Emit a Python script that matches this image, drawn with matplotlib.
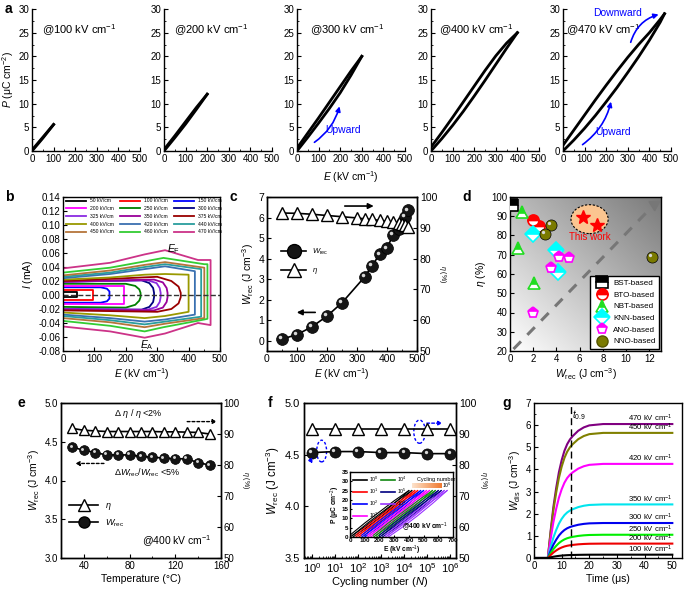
import numpy as np
import matplotlib
matplotlib.use('Agg')
import matplotlib.pyplot as plt
from matplotlib.patches import Ellipse
from matplotlib.lines import Line2D
from matplotlib import transforms
from matplotlib.colors import LinearSegmentedColormap
from matplotlib.ticker import AutoMinorLocator, LogLocator, NullFormatter

plt.rcParams['font.family'] = ['Liberation Sans', 'DejaVu Sans']
plt.rcParams['mathtext.fontset'] = 'custom'
plt.rcParams['mathtext.rm'] = 'Liberation Sans'
plt.rcParams['mathtext.it'] = 'Liberation Sans:italic'
plt.rcParams['mathtext.bf'] = 'Liberation Sans:bold'
plt.rcParams['font.size'] = 7
plt.rcParams['axes.labelsize'] = 7.5
plt.rcParams['xtick.labelsize'] = 7
plt.rcParams['ytick.labelsize'] = 7
plt.rcParams['axes.linewidth'] = 1.0
plt.rcParams['xtick.direction'] = 'in'
plt.rcParams['ytick.direction'] = 'in'
plt.rcParams['xtick.major.size'] = 3
plt.rcParams['ytick.major.size'] = 3
plt.rcParams['xtick.minor.size'] = 1.5
plt.rcParams['ytick.minor.size'] = 1.5
plt.rcParams['xtick.major.pad'] = 2
plt.rcParams['ytick.major.pad'] = 2
plt.rcParams['axes.labelpad'] = 2

# ---------------- data ----------------
# a: P-E loops
a_fields = [100, 200, 300, 400, 470]
a_E = [
    [0, 50, 100],
    [0, 50, 100, 150, 200],
    [0, 50, 100, 150, 200, 250, 300],
    [0, 50, 100, 150, 200, 250, 300, 350, 400],
    [0, 50, 100, 150, 200, 250, 300, 350, 400, 450, 470],
]
a_P_up = [
    [0, 2.7, 5.6],
    [0, 2.8, 5.7, 8.8, 12.0],
    [0, 2.9, 5.9, 9.0, 12.3, 16.0, 20.0],
    [0, 2.6, 5.4, 8.4, 11.6, 14.9, 18.3, 21.7, 25.0],
    [0, 2.3, 4.8, 7.5, 10.4, 13.4, 16.6, 19.9, 23.4, 27.2, 29.0],
]
a_P_dn = [
    [0.2, 2.9, 5.6],
    [0.3, 3.2, 6.2, 9.2, 12.0],
    [0.6, 3.8, 7.0, 10.3, 13.6, 16.9, 20.0],
    [0.8, 3.9, 7.1, 10.4, 13.7, 17.0, 20.1, 22.8, 25.0],
    [1.2, 4.4, 7.6, 10.8, 13.9, 16.9, 19.8, 22.5, 25.0, 27.8, 29.0],
]
a_text_x = [46, 46, 60, 37, 14]

# b: I-E loops
b_fields = [50, 100, 150, 200, 250, 300, 325, 350, 375, 400, 420, 440, 450, 460, 470]
b_colors = ['black', 'red', 'blue', 'magenta', '#008000', '#000080', '#8a2be2', '#990099',
            '#990000', '#999900', '#3a70b0', '#2a9d9d', '#b5753a', '#33cc33', '#cc3388']
b_E = [
    [0, 45],
    [0, 97],
    [0, 120, 140, 148],
    [0, 195],
    [0, 200, 230, 243, 247],
    [0, 250, 275, 287, 290],
    [0, 270, 298, 308, 311],
    [0, 290, 318, 330, 333],
    [0, 300, 345, 368, 375],
    [0, 150, 260, 325, 400],
    [0, 150, 260, 325, 420],
    [0, 150, 260, 325, 440],
    [0, 150, 260, 325, 450],
    [0, 150, 260, 320, 450, 460],
    [0, 150, 260, 325, 430, 470],
]
b_I_up = [
    [0.004, 0.004],
    [0.007, 0.007],
    [0.011, 0.011, 0.009, 0.005],
    [0.013, 0.013],
    [0.016, 0.016, 0.013, 0.008, 0.003],
    [0.019, 0.021, 0.017, 0.010, 0.003],
    [0.019, 0.021, 0.017, 0.010, 0.003],
    [0.019, 0.022, 0.018, 0.010, 0.003],
    [0.020, 0.026, 0.020, 0.012, 0.003],
    [0.022, 0.025, 0.029, 0.030, 0.029],
    [0.024, 0.030, 0.037, 0.041, 0.034],
    [0.026, 0.032, 0.040, 0.044, 0.037],
    [0.028, 0.035, 0.043, 0.047, 0.039],
    [0.032, 0.039, 0.048, 0.053, 0.044, 0.044],
    [0.038, 0.046, 0.058, 0.064, 0.050, 0.050],
]
b_I_lo = [
    [-0.003, -0.003],
    [-0.007, -0.007],
    [-0.011, -0.011, -0.009, -0.005],
    [-0.013, -0.013],
    [-0.017, -0.018, -0.014, -0.008, -0.003],
    [-0.020, -0.021, -0.017, -0.010, -0.003],
    [-0.020, -0.021, -0.017, -0.010, -0.003],
    [-0.021, -0.022, -0.018, -0.010, -0.003],
    [-0.022, -0.024, -0.020, -0.012, -0.003],
    [-0.025, -0.029, -0.033, -0.030, -0.024],
    [-0.028, -0.033, -0.038, -0.035, -0.028],
    [-0.030, -0.036, -0.042, -0.038, -0.031],
    [-0.033, -0.039, -0.046, -0.041, -0.033],
    [-0.037, -0.044, -0.052, -0.046, -0.035, -0.034],
    [-0.045, -0.052, -0.061, -0.055, -0.040, -0.043],
]

# c: energy storage vs field
c_E_w = [50, 100, 150, 200, 250, 325, 350, 375, 400, 420, 440, 450, 460, 470]
c_W = [0.08, 0.30, 0.68, 1.20, 1.85, 3.10, 3.65, 4.20, 4.50, 5.15, 5.45, 5.75, 6.05, 6.35]
c_E_eta = [50, 100, 150, 200, 250, 300, 325, 350, 375, 400, 420, 440, 450, 460, 470]
c_eta = [94.8, 94.7, 94.4, 94.0, 93.6, 93.2, 92.9, 92.7, 92.4, 92.1, 91.8, 91.5, 91.2, 90.8, 90.1]

# d: comparison
d_groups = ['BST-based', 'BTO-based', 'NBT-based', 'KNN-based', 'ANO-based', 'NNO-based']
d_colors = ['black', 'red', '#22dd22', 'cyan', 'magenta', '#808000']
d_markers = ['s', 'o', '^', 'D', 'p', 'o']
d_W = [[0.2], [2.0, 2.5], [1.0, 0.7, 2.1], [2.0, 4.0, 4.1], [4.2, 5.1, 3.5, 2.0], [3.5, 3.0, 12.2]]
d_eta = [[96], [88, 85], [92, 73.5, 55.5], [81, 72.5, 61], [69, 68.5, 63, 40], [85.5, 81, 69]]
d_this_W = [6.3, 7.5]
d_this_eta = [89.5, 85.5]

# e: temperature stability
e_T = [30, 40, 50, 60, 70, 80, 90, 100, 110, 120, 130, 140, 150]
e_W = [4.43, 4.39, 4.36, 4.33, 4.33, 4.33, 4.31, 4.30, 4.29, 4.28, 4.28, 4.23, 4.20]
e_eta = [91.8, 91.2, 91.0, 90.8, 90.8, 90.8, 90.8, 90.8, 90.7, 90.7, 90.6, 90.5, 90.0]

# f: fatigue
f_N = [1, 1e1, 1e2, 1e3, 1e4, 1e5, 1e6]
f_W = [4.52, 4.53, 4.53, 4.52, 4.52, 4.51, 4.51]
f_eta = [91.5, 91.5, 91.5, 91.5, 91.5, 91.5, 91.5]
f_in_labels = ['10$^0$', '10$^1$', '10$^2$', '10$^3$', '10$^4$', '10$^5$', '10$^6$']
f_in_colors = ['black', 'red', 'blue', 'magenta', '#118811', '#000080', '#9933ff']
f_in_offsets = [[0, 20], [40, 60], [80, 100], [120, 140], [160, 180], [200, 220], [240, 260]]
f_in_E = [0, 100, 200, 300, 400]
f_in_P_up = [0, 5.5, 11.5, 18.0, 25.0]
f_in_P_dn = [1.0, 7.5, 13.5, 19.5, 25.0]

# g: discharge energy
g_fields = [470, 450, 420, 350, 300, 250, 200, 100]
g_colors = ['#800080', '#808000', '#ff00ff', '#00e5ee', '#0000ee', '#00ee00', '#ee0000', 'black']
g_final = [6.05, 5.65, 4.25, 2.42, 1.58, 1.05, 0.65, 0.15]
g_time = [0, 5, 6, 7, 8, 9, 10, 11, 12, 13, 14, 16, 18, 20, 25, 30, 40, 50]
g_shape = [0, 0, 0.20, 0.38, 0.52, 0.64, 0.73, 0.80, 0.85, 0.885, 0.91, 0.95, 0.975, 0.99, 1, 1, 1, 1]

# ---------------- figure ----------------
fig = plt.figure(figsize=(6.85, 5.89), dpi=100)
W_, H_ = 685.0, 589.0


def rect(x0, x1, y0, y1):
    return [x0 / W_, 1 - y1 / H_, (x1 - x0) / W_, (y1 - y0) / H_]


def balls(ax, x, y, ms, color='#151515', ls='-', zorder=3):
    ax.plot(x, y, ls=ls, color='black', lw=1.2, marker='o', ms=ms, mfc=color,
            mec='black', mew=0.5, zorder=zorder)
    tr = transforms.offset_copy(ax.transData, fig=fig, x=-ms * 0.15, y=ms * 0.15, units='points')
    ax.plot(x, y, ls='none', marker='o', ms=ms * 0.3, mfc='#d8d8d8', mec='none',
            transform=tr, zorder=zorder + 0.1)


lab = dict(fontsize=10, fontweight='bold', ha='left', va='top')

# ---- a ----
a_left = [32, 164, 297, 431, 563]
for i, x0 in enumerate(a_left):
    ax = fig.add_axes(rect(x0, x0 + 108, 9, 151))
    ax.plot(a_E[i], a_P_up[i], color='black', lw=2)
    ax.plot(a_E[i], a_P_dn[i], color='black', lw=2)
    ax.set_xlim(0, 500)
    ax.set_ylim(0, 30)
    ax.spines['top'].set_visible(False)
    ax.spines['right'].set_visible(False)
    ax.set_xticks(range(0, 501, 100))
    ax.set_yticks(range(0, 31, 5))
    ax.xaxis.set_minor_locator(AutoMinorLocator(2))
    ax.yaxis.set_minor_locator(AutoMinorLocator(2))
    ax.text(a_text_x[i], 25.5, '@%d kV cm$^{-1}$' % a_fields[i], fontsize=8, va='center')
    if i == 0:
        ax.set_ylabel('$P$ (μC cm$^{-2}$)')
    if i == 2:
        ax.set_xlabel('$E$ (kV cm$^{-1}$)', labelpad=4)
        ax.annotate('', xy=(200, 10), xytext=(70, 1.5),
                    arrowprops=dict(arrowstyle='-|>', color='blue', lw=1.2,
                                    connectionstyle='arc3,rad=0.2', mutation_scale=7))
        ax.text(130, 3.7, 'Upward', color='blue', fontsize=7.5)
    if i == 4:
        ax.annotate('', xy=(225, 11), xytext=(80, 1),
                    arrowprops=dict(arrowstyle='-|>', color='blue', lw=1.2,
                                    connectionstyle='arc3,rad=0.2', mutation_scale=7))
        ax.text(150, 3.3, 'Upward', color='blue', fontsize=7.5)
        ax.annotate('', xy=(455, 29), xytext=(310, 22.4),
                    arrowprops=dict(arrowstyle='-|>', color='blue', lw=1.2,
                                    connectionstyle='arc3,rad=-0.3', mutation_scale=7))
        ax.text(140, 28.6, 'Downward', color='blue', fontsize=7.5)
fig.text(5 / W_, 1 - 2 / H_, 'a', **lab)

# ---- b ----
ax = fig.add_axes(rect(63, 220, 197, 351))
handles = []
for i in range(len(b_fields)):
    xs = b_E[i] + b_E[i][::-1] + [b_E[i][0]]
    ys = b_I_up[i] + b_I_lo[i][::-1] + [b_I_up[i][0]]
    ax.plot(xs, ys, color=b_colors[i], lw=1.3)
    handles.append(Line2D([], [], color=b_colors[i], lw=1.3, label='%d kV/cm' % b_fields[i]))
ax.axhline(0, color='#333333', ls='--', lw=1)
ax.set_xlim(0, 500)
ax.set_ylim(-0.08, 0.14)
yt = np.arange(-0.08, 0.141, 0.02)
ax.set_yticks(yt)
ax.set_yticklabels(['%.2f' % v if abs(v) > 1e-9 else '0.00' for v in yt])
ax.set_xticks(range(0, 501, 100))
ax.xaxis.set_minor_locator(AutoMinorLocator(2))
ax.set_xlabel('$E$ (kV cm$^{-1}$)')
ax.set_ylabel('$I$ (mA)')
order = handles[0::3] + handles[1::3] + handles[2::3]
ax.legend(handles=order, ncol=3, loc='upper left', bbox_to_anchor=(0.0, 1.01), frameon=False,
          fontsize=3.6, handlelength=4, columnspacing=1.2, labelspacing=0.55, borderaxespad=0.2)
ax.text(330, 0.061, '$E_\\mathrm{F}$', fontsize=7.5)
ax.text(245, -0.076, '$E_\\mathrm{A}$', fontsize=7.5)
fig.text(5 / W_, 1 - 190 / H_, 'b', **lab)

# ---- c ----
ax = fig.add_axes(rect(267, 417, 197, 351))
ax2 = ax.twinx()
balls(ax, c_E_w, c_W, 8.5)
ax2.plot(c_E_eta, c_eta, color='black', lw=1.2, marker='^', ms=8, mfc='white', mec='black', mew=1)
ax.set_xlim(0, 500)
ax.set_ylim(-0.5, 7)
ax2.set_ylim(50, 100)
ax.set_xticks(range(0, 501, 100))
ax.set_yticks(range(0, 8))
ax2.set_yticks(range(50, 101, 10))
ax.xaxis.set_minor_locator(AutoMinorLocator(2))
ax.tick_params(labelsize=7.5)
ax2.tick_params(labelsize=7.5)
ax.set_xlabel('$E$ (kV cm$^{-1}$)')
ax.set_ylabel('$W_\\mathrm{rec}$ (J cm$^{-3}$)')
ax2.set_ylabel('$\\eta$ (%)', rotation=270, labelpad=8, fontsize=5)
ax.annotate('', xy=(365, 6.56), xytext=(250, 6.56),
            arrowprops=dict(arrowstyle='-|>', color='black', lw=1.2, mutation_scale=8))
ax.annotate('', xy=(90, 1.38), xytext=(170, 1.38),
            arrowprops=dict(arrowstyle='-|>', color='black', lw=1.2, mutation_scale=8))
hc = [Line2D([], [], color='black', lw=1.2, marker='o', ms=10, mfc='#151515', mec='black'),
      Line2D([], [], color='black', lw=1.2, marker='^', ms=10, mfc='white', mec='black')]
ax.legend(hc, ['$W_\\mathrm{rec}$', '$\\eta$'], loc='upper left', bbox_to_anchor=(0.05, 0.72),
          frameon=False, fontsize=5.5, handlelength=3.2, labelspacing=1.2)
fig.text(230 / W_, 1 - 190 / H_, 'c', **lab)

# ---- d ----
ax = fig.add_axes(rect(510, 661, 197, 351))
gx, gy = np.meshgrid(np.linspace(0, 1, 200), np.linspace(0, 1, 200))
gcm = LinearSegmentedColormap.from_list('bg', ['white', '#7a7a7a'])
ax.imshow(gx * 0.55 + gy * 0.6, extent=[0, 13, 20, 100], origin='lower', cmap=gcm,
          aspect='auto', zorder=0, vmin=0, vmax=1.15)
ax.plot([0.3, 12.0], [21, 93.5], color='#777777', ls=(0, (3.5, 3)), lw=2.2, zorder=1)
ax.plot([12.4], [96.5], marker=(3, 0, -58), ms=9, color='#777777', zorder=1)
ax.add_patch(Ellipse((6.85, 88.5), 3.2, 15, facecolor='#fbc590', edgecolor='black',
                     ls=(0, (2, 1.5)), lw=0.8, zorder=2))
ax.plot(d_this_W, d_this_eta, ls='none', marker='*', ms=10, color='red', zorder=3)
ax.text(6.9, 77.5, 'This work', color='red', fontsize=7, ha='center', zorder=3)
dh = []
for i, g in enumerate(d_groups):
    if g == 'NNO-based':
        balls(ax, d_W[i], d_eta[i], 8, color='#7a7a00', ls='none', zorder=4)
        dh.append(Line2D([], [], ls='none', marker='o', ms=8, mfc='#7a7a00', mec='#555500'))
    else:
        ax.plot(d_W[i], d_eta[i], ls='none', marker=d_markers[i], ms=8, mfc=d_colors[i],
                mfcalt='white', fillstyle='top', mec=d_colors[i], mew=1.2, zorder=4)
        dh.append(Line2D([], [], ls='none', marker=d_markers[i], ms=8, mfc=d_colors[i],
                         markerfacecoloralt='white', fillstyle='top', mec=d_colors[i], mew=1.2))
ax.legend(dh, d_groups, loc='lower right', fontsize=5.8, fancybox=False, edgecolor='black',
          framealpha=1, handletextpad=0.4, labelspacing=0.5, borderaxespad=0.3)
ax.set_xlim(0, 13)
ax.set_ylim(20, 100)
ax.set_xticks(range(0, 13, 2))
ax.set_yticks(range(20, 101, 10))
ax.set_xlabel('$W_\\mathrm{rec}$ (J cm$^{-3}$)')
ax.set_ylabel('$\\eta$ (%)')
fig.text(462 / W_, 1 - 190 / H_, 'd', **lab)

# ---- e ----
ax = fig.add_axes(rect(61, 221, 403, 558))
ax2 = ax.twinx()
balls(ax, e_T, e_W, 7)
ax2.plot(e_T, e_eta, color='black', lw=1.2, marker='^', ms=7, mfc='white', mec='black', mew=1)
ax.set_xlim(20, 160)
ax.set_ylim(3.0, 5.0)
ax2.set_ylim(50, 100)
ax.set_xticks(range(40, 161, 40))
ax.set_yticks(np.arange(3.0, 5.01, 0.5))
ax2.set_yticks(range(50, 101, 10))
ax.xaxis.set_minor_locator(AutoMinorLocator(2))
ax.set_xlabel('Temperature (°C)')
ax.set_ylabel('$W_\\mathrm{rec}$ (J cm$^{-3}$)')
ax2.set_ylabel('$\\eta$ (%)', rotation=270, labelpad=8, fontsize=5)
ax.annotate('', xy=(159, 4.76), xytext=(128, 4.76),
            arrowprops=dict(arrowstyle='-|>', color='black', lw=1, ls=(0, (2, 1.5)), mutation_scale=6))
ax.annotate('', xy=(30, 4.22), xytext=(60, 4.22),
            arrowprops=dict(arrowstyle='-|>', color='black', lw=1, ls=(0, (2, 1.5)), mutation_scale=6))
ax.text(88, 4.83, '$\\Delta\\ \\eta\\ /\\ \\eta$ <2%', fontsize=6.5, ha='center')
ax.text(95, 4.06, '$\\Delta W_\\mathrm{rec}/W_\\mathrm{rec}$ <5%', fontsize=6.5, ha='center')
he = [Line2D([], [], color='black', lw=1.2, marker='^', ms=8, mfc='white', mec='black'),
      Line2D([], [], color='black', lw=1.2, marker='o', ms=8, mfc='#151515', mec='black')]
ax.legend(he, ['$\\eta$', '$W_\\mathrm{rec}$'], loc='upper left', bbox_to_anchor=(0.0, 0.42),
          frameon=False, fontsize=6.5, handlelength=3.2, labelspacing=0.6)
ax.text(152, 3.17, '@400 kV cm$^{-1}$', fontsize=7.5, ha='right')
fig.text(18 / W_, 1 - 396 / H_, 'e', **lab)

# ---- f ----
ax = fig.add_axes(rect(304, 456, 403, 558))
ax2 = ax.twinx()
balls(ax, f_N, f_W, 8)
ax2.plot(f_N, f_eta, color='black', lw=1.2, marker='^', ms=8, mfc='white', mec='black', mew=1)
ax.set_xscale('log')
ax.set_xlim(10 ** -0.35, 10 ** 6.25)
ax.set_ylim(3.5, 5.0)
ax2.set_ylim(50, 100)
ax.xaxis.set_major_locator(LogLocator(base=10, numticks=10))
ax.xaxis.set_minor_locator(LogLocator(base=10, subs=np.arange(2, 10), numticks=20))
ax.xaxis.set_minor_formatter(NullFormatter())
ax.set_yticks(np.arange(3.5, 5.01, 0.5))
ax2.set_yticks(range(50, 101, 10))
ax.tick_params(labelsize=8)
ax.tick_params(axis='x', pad=2.5)
ax.tick_params(axis='y', pad=3)
ax2.tick_params(labelsize=7.5)
ax.set_xlabel('Cycling number ($N$)', fontsize=8, labelpad=0)
ax.set_ylabel('$W_\\mathrm{rec}$ (J cm$^{-3}$)', fontsize=8.3)
ax2.set_ylabel('$\\eta$ (%)', rotation=270, labelpad=9, fontsize=5)
ax.add_patch(Ellipse((0.116, 0.69), 0.065, 0.14, transform=ax.transAxes, fill=False,
                     edgecolor='blue', ls=(0, (2, 1.5)), lw=1))
ax.annotate('', xy=(0.0, 0.63), xytext=(0.07, 0.63), xycoords='axes fraction',
            arrowprops=dict(arrowstyle='-|>', color='blue', lw=1, ls=(0, (2, 1.5)), mutation_scale=6))
ax.add_patch(Ellipse((0.76, 0.815), 0.075, 0.15, transform=ax.transAxes, fill=False,
                     edgecolor='blue', ls=(0, (2, 1.5)), lw=1))
ax.annotate('', xy=(0.93, 0.87), xytext=(0.79, 0.87), xycoords='axes fraction',
            arrowprops=dict(arrowstyle='-|>', color='blue', lw=1, ls=(0, (2, 1.5)), mutation_scale=6))
fig.text(268 / W_, 1 - 396 / H_, 'f', **lab)

# inset
axi = fig.add_axes(rect(350, 453, 472, 537))
ih = []
for i in range(len(f_in_labels)):
    for off in f_in_offsets[i]:
        axi.plot([e + off for e in f_in_E], f_in_P_up, color=f_in_colors[i], lw=0.8)
        axi.plot([e + off for e in f_in_E], f_in_P_dn, color=f_in_colors[i], lw=0.8)
    ih.append(Line2D([], [], color=f_in_colors[i], lw=1.2))
axi.legend(ih, f_in_labels, ncol=2, loc='upper left', frameon=False, fontsize=3.8,
           handlelength=2.6, handletextpad=0.4, columnspacing=0.5, labelspacing=0.5,
           borderaxespad=0.2)
ocm = LinearSegmentedColormap.from_list('or', ['#fde3cc', '#f07a30'])
axi.imshow(np.linspace(0, 1, 100).reshape(1, -1), extent=[420, 620, 26.5, 29], cmap=ocm,
           aspect='auto', zorder=2)
axi.text(585, 31.2, 'Cycling number', fontsize=4, ha='center', va='center')
axi.text(625, 27.8, '10$^6$', fontsize=3.8, va='center')
axi.text(665, 4, '@400 kV cm$^{-1}$', fontsize=4.8, fontweight='bold', ha='right')
axi.set_xlim(0, 700)
axi.set_ylim(0, 35)
axi.set_xticks(range(0, 701, 100))
axi.set_yticks(range(0, 36, 5))
axi.tick_params(labelsize=4.5, length=1.5, pad=1)
for t in axi.get_xticklabels() + axi.get_yticklabels():
    t.set_fontweight('bold')
axi.set_xlabel('$\\mathbf{E}$ (kV cm$^{-1}$)', fontsize=4.8, fontweight='bold', labelpad=0)
axi.set_ylabel('$\\mathbf{P}$ (μC cm$^{-2}$)', fontsize=4.8, fontweight='bold', labelpad=0)

# ---- g ----
ax = fig.add_axes(rect(534, 682, 403, 558))
for i in range(len(g_fields)):
    ax.plot(g_time, [s * g_final[i] for s in g_shape], color=g_colors[i], lw=1.5)
    ax.text(50, g_final[i] - 0.02, '%d kV cm$^{-1}$' % g_fields[i], fontsize=5.6,
            ha='right', va='bottom')
ax.axvline(13.5, color='black', ls=(0, (5, 3)), lw=1)
ax.text(13.8, 6.3, '$t_{0.9}$', fontsize=7)
ax.set_xlim(0, 53.5)
ax.set_ylim(0, 7)
ax.set_xticks(range(0, 51, 10))
ax.set_yticks(range(0, 8))
ax.xaxis.set_minor_locator(AutoMinorLocator(2))
ax.yaxis.set_minor_locator(AutoMinorLocator(2))
ax.set_xlabel('Time (μs)')
ax.set_ylabel('$W_\\mathrm{dis}$ (J cm$^{-3}$)')
fig.text(502 / W_, 1 - 396 / H_, 'g', **lab)

fig.savefig('out.png', dpi=100)
